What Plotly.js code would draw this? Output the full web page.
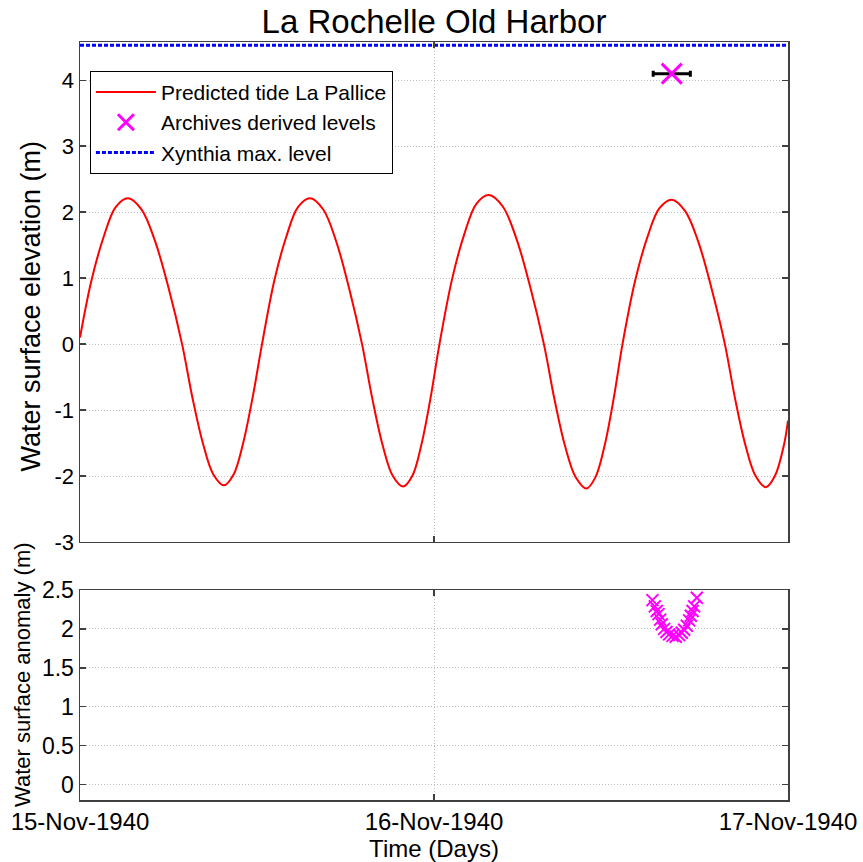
<!DOCTYPE html>
<html>
<head>
<meta charset="utf-8">
<script src="https://cdn.plot.ly/plotly-3.0.1.min.js"></script>
<style>html,body{margin:0;padding:0;background:#fff;}#chart{width:863px;height:862px;}</style>
</head>
<body>
<div id="chart"></div>
<script>
// Time in hours since 15-Nov-1940 00:00
const tideHours = [0, 0.76, 1.595, 2.43, 3.26, 4.175, 5.09, 6.005, 6.92, 7.63, 8.34, 9.05, 9.76,
  10.405, 11.05, 11.695, 12.34, 13.16, 13.975, 14.79, 15.61, 16.49, 17.365, 18.24, 19.12,
  19.82, 20.515, 21.21, 21.91, 22.525, 23.14, 23.755, 24.37, 25.21, 26.045, 26.885, 27.72,
  28.65, 29.585, 30.52, 31.45, 32.17, 32.89, 33.61, 34.33, 34.94, 35.555, 36.17, 36.78,
  37.615, 38.45, 39.285, 40.12, 41.02, 41.92, 42.82, 43.72, 44.415, 45.11, 45.805, 46.50,
  47.11, 47.725, 48.0];
const tideLevel = [0.10, 0.95, 1.62, 2.08, 2.21, 2.04, 1.56, 0.85, 0.0, -0.82, -1.51, -1.98, -2.14,
  -1.98, -1.51, -0.82, 0.0, 0.95, 1.62, 2.08, 2.21, 2.04, 1.56, 0.85, 0.0,
  -0.83, -1.53, -2.0, -2.16, -2.0, -1.53, -0.83, 0.0, 0.97, 1.66, 2.13, 2.26,
  2.09, 1.60, 0.87, 0.0, -0.84, -1.55, -2.02, -2.19, -2.02, -1.55, -0.84, 0.0,
  0.94, 1.61, 2.06, 2.19, 2.02, 1.55, 0.84, 0.0, -0.83, -1.53, -2.0, -2.17,
  -2.0, -1.53, -1.16];

const archiveHour = [40.12];
const archiveLevel = [4.10];
const archiveHourErr = [1.26];

const xynthiaHours = [0, 48];
const xynthiaLevel = [4.53, 4.53];

const anomalyHours = [38.81, 38.97, 39.10, 39.22, 39.33, 39.44, 39.60, 39.76, 39.94, 40.17,
  40.39, 40.62, 40.80, 40.96, 41.14, 41.30, 41.41, 41.53, 41.64, 41.82];
const anomalyLevel = [2.37, 2.29, 2.23, 2.19, 2.12, 2.06, 2.00, 1.96, 1.93, 1.91,
  1.90, 1.92, 1.95, 1.99, 2.04, 2.11, 2.17, 2.23, 2.29, 2.40];

const xTickVals = [0, 24, 48];
const xTickText = ['15-Nov-1940', '16-Nov-1940', '17-Nov-1940'];
const topYTicks = [-3, -2, -1, 0, 1, 2, 3, 4];
const botYTicks = [0, 0.5, 1, 1.5, 2, 2.5];
const botYTickText = ['0', '0.5', '1', '1.5', '2', '2.5'];

const FONT = 'Liberation Sans, Arial, Helvetica, sans-serif';
const axisLine = '#404040';
const gridC = '#bdbdbd';

const traces = [
  {x: tideHours, y: tideLevel, type: 'scatter', mode: 'lines', name: 'Predicted tide La Pallice',
   line: {color: '#ff0000', width: 2, shape: 'spline', smoothing: 1}, xaxis: 'x2', yaxis: 'y2'},
  {x: archiveHour, y: archiveLevel, type: 'scatter', mode: 'markers', name: 'Archives derived levels',
   marker: {symbol: 'x-thin-open', size: 20, color: '#ff00ff', line: {color: '#ff00ff', width: 3}},
   error_x: {type: 'data', array: archiveHourErr, color: '#000000', thickness: 3, width: 3},
   xaxis: 'x2', yaxis: 'y2'},
  {x: xynthiaHours, y: xynthiaLevel, type: 'scatter', mode: 'lines', name: 'Xynthia max. level',
   line: {color: '#0000ff', width: 3, dash: '4px,2px'}, xaxis: 'x2', yaxis: 'y2'},
  {x: anomalyHours, y: anomalyLevel, type: 'scatter', mode: 'markers', showlegend: false,
   marker: {symbol: 'x-thin-open', size: 12, color: '#ff00ff', line: {color: '#ff00ff', width: 2}},
   xaxis: 'x', yaxis: 'y'}
];

const commonAxis = {
  showline: true, linecolor: axisLine, linewidth: 1.5, mirror: 'ticks',
  ticks: 'inside', ticklen: 6, tickcolor: axisLine, tickwidth: 1.5,
  showgrid: true, gridcolor: gridC, griddash: '1px,2px', gridwidth: 1,
  zeroline: false, tickfont: {family: FONT, size: 22, color: '#000'}
};

const layout = {
  width: 863, height: 862,
  margin: {l: 80, r: 75, t: 42, b: 62},
  paper_bgcolor: '#fff', plot_bgcolor: '#fff',
  font: {family: FONT, color: '#000'},
  title: {text: 'La Rochelle Old Harbor', font: {family: FONT, size: 33, color: '#000'},
          x: 0.5, xref: 'paper', y: 0.975, yref: 'container', yanchor: 'middle'},
  showlegend: true,
  legend: {x: 0.014, y: 0.962, xanchor: 'left', yanchor: 'top', bgcolor: '#fff',
           bordercolor: '#000', borderwidth: 1, font: {family: FONT, size: 21, color: '#000'},
           itemwidth: 60, tracegroupgap: 0},
  xaxis: Object.assign({}, commonAxis, {
    domain: [0, 1], anchor: 'y', range: [0, 48], tickmode: 'array',
    tickvals: xTickVals, ticktext: xTickText, tickfont: {family: FONT, size: 24, color: '#000'},
    title: {text: 'Time (Days)', font: {family: FONT, size: 24, color: '#000'}, standoff: 2}
  }),
  yaxis: Object.assign({}, commonAxis, {
    domain: [0, 0.277], anchor: 'x', range: [-0.2, 2.5], tickmode: 'array',
    tickvals: botYTicks, ticktext: botYTickText, tickfont: {family: FONT, size: 23, color: '#000'}
  }),
  xaxis2: Object.assign({}, commonAxis, {
    domain: [0, 1], anchor: 'y2', range: [0, 48], tickmode: 'array',
    tickvals: xTickVals, showticklabels: false
  }),
  yaxis2: Object.assign({}, commonAxis, {
    domain: [0.3404, 1], anchor: 'x2', range: [-3, 4.58], tickmode: 'array',
    tickvals: topYTicks, ticktext: topYTicks.map(String)
  }),
  annotations: [
    {text: 'Water surface elevation (m)', textangle: -90, xref: 'paper', yref: 'paper',
     x: -0.0685, y: 0.6517, xanchor: 'center', yanchor: 'middle', showarrow: false,
     font: {family: FONT, size: 27, color: '#000'}},
    {text: 'Water surface anomaly (m)', textangle: -90, xref: 'paper', yref: 'paper',
     x: -0.0805, y: 0.165, xanchor: 'center', yanchor: 'middle', showarrow: false,
     font: {family: FONT, size: 22, color: '#000'}}
  ]
};

Plotly.newPlot('chart', traces, layout, {displayModeBar: false, staticPlot: true});
</script>
</body>
</html>
